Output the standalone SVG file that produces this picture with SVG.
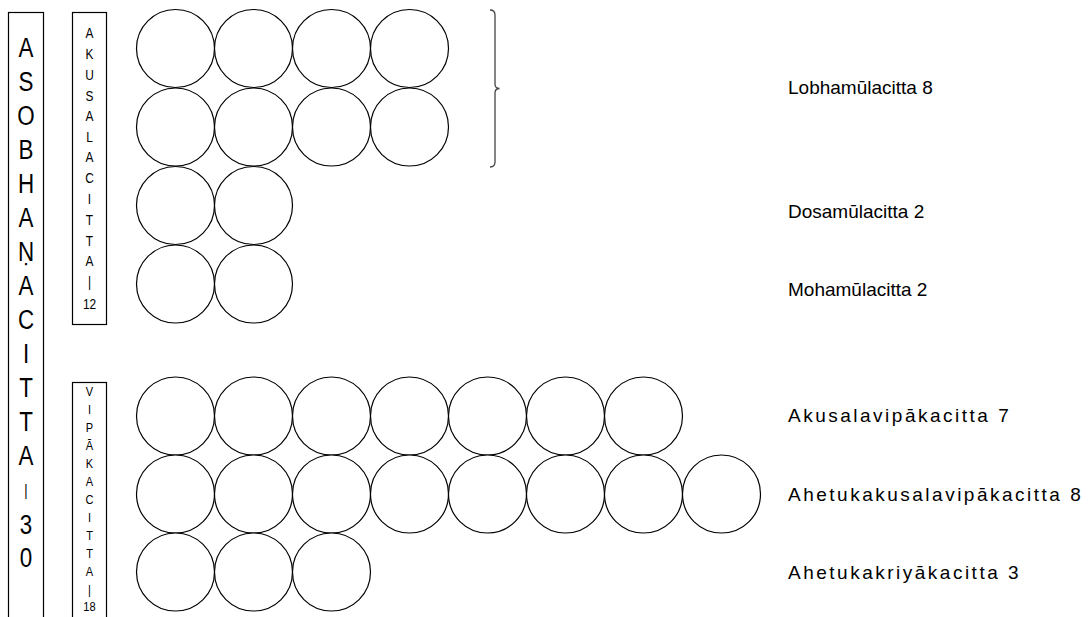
<svg xmlns="http://www.w3.org/2000/svg" width="1090" height="617" viewBox="0 0 1090 617">
<style>
.c{fill:#fff;stroke:#000;stroke-width:1.2}
.box{fill:#fff;stroke:#000;stroke-width:1.2}
.big{font-family:"Liberation Sans",Arial,sans-serif;font-size:28px;fill:#000;text-anchor:middle;dominant-baseline:central}
.sm{font-family:"Liberation Sans",Arial,sans-serif;font-size:14px;fill:#000;text-anchor:middle;dominant-baseline:central}
.xs{font-family:"Liberation Sans",Arial,sans-serif;font-size:13px;fill:#000;text-anchor:middle;dominant-baseline:central}
.lbl{font-family:"Liberation Sans",Arial,sans-serif;font-size:19px;fill:#000;dominant-baseline:central}
.wide{letter-spacing:2.5px}
.brace{fill:none;stroke:#444;stroke-width:1.3}
</style>
<rect width="1090" height="617" fill="#fff"/>
<g id="asobhana">
<rect class="box" x="8.5" y="12.5" width="35" height="620"/>
<g transform="translate(26,0) scale(0.8,1)">
<text class="big" x="0" y="47">A</text>
<text class="big" x="0" y="81">S</text>
<text class="big" x="0" y="115">O</text>
<text class="big" x="0" y="149">B</text>
<text class="big" x="0" y="183">H</text>
<text class="big" x="0" y="217">A</text>
<text class="big" x="0" y="251">Ṇ</text>
<text class="big" x="0" y="285">A</text>
<text class="big" x="0" y="319">C</text>
<text class="big" x="0" y="353">I</text>
<text class="big" x="0" y="387">T</text>
<text class="big" x="0" y="421">T</text>
<text class="big" x="0" y="455">A</text>
<text class="big" x="0" y="490" style="font-size:16px">|</text>
<text class="big" x="0" y="524">3</text>
<text class="big" x="0" y="557">0</text>
</g>
</g>
<g id="akusala">
<rect class="box" x="72.5" y="12.5" width="34" height="312"/>
<g transform="translate(89.5,0) scale(0.85,1)">
<text class="sm" x="0" y="33">A</text>
<text class="sm" x="0" y="54">K</text>
<text class="sm" x="0" y="75">U</text>
<text class="sm" x="0" y="96">S</text>
<text class="sm" x="0" y="116">A</text>
<text class="sm" x="0" y="137">L</text>
<text class="sm" x="0" y="157">A</text>
<text class="sm" x="0" y="178">C</text>
<text class="sm" x="0" y="199">I</text>
<text class="sm" x="0" y="220">T</text>
<text class="sm" x="0" y="241">T</text>
<text class="sm" x="0" y="261">A</text>
<text class="sm" x="0" y="282">|</text>
<text class="sm" x="0" y="304">12</text>
</g>
</g>
<g id="vipaka">
<rect class="box" x="72.5" y="382.5" width="34" height="250"/>
<g transform="translate(89.5,0) scale(0.85,1)">
<text class="xs" x="0" y="392">V</text>
<text class="xs" x="0" y="410">I</text>
<text class="xs" x="0" y="428">P</text>
<text class="xs" x="0" y="446">Ā</text>
<text class="xs" x="0" y="464">K</text>
<text class="xs" x="0" y="482">A</text>
<text class="xs" x="0" y="500">C</text>
<text class="xs" x="0" y="518">I</text>
<text class="xs" x="0" y="536">T</text>
<text class="xs" x="0" y="554">T</text>
<text class="xs" x="0" y="572">A</text>
<text class="xs" x="0" y="590">|</text>
<text class="xs" x="0" y="607">18</text>
</g>
</g>
<g id="lobha">
<circle class="c" cx="175.5" cy="48.5" r="39"/><circle class="c" cx="253.5" cy="48.5" r="39"/><circle class="c" cx="331.5" cy="48.5" r="39"/><circle class="c" cx="409.5" cy="48.5" r="39"/>
<circle class="c" cx="175.5" cy="127" r="39"/><circle class="c" cx="253.5" cy="127" r="39"/><circle class="c" cx="331.5" cy="127" r="39"/><circle class="c" cx="409.5" cy="127" r="39"/>
<text class="lbl" x="788" y="87">Lobhamūlacitta 8</text>
</g>
<g id="dosa">
<circle class="c" cx="175.5" cy="205.5" r="39"/><circle class="c" cx="253.5" cy="205.5" r="39"/>
<text class="lbl" x="788" y="211">Dosamūlacitta 2</text>
</g>
<g id="moha">
<circle class="c" cx="175.5" cy="284" r="39"/><circle class="c" cx="253.5" cy="284" r="39"/>
<text class="lbl" x="788" y="289">Mohamūlacitta 2</text>
</g>
<g id="akusalavipaka">
<circle class="c" cx="175.5" cy="416" r="39"/><circle class="c" cx="253.5" cy="416" r="39"/><circle class="c" cx="331.5" cy="416" r="39"/><circle class="c" cx="409.5" cy="416" r="39"/><circle class="c" cx="487.5" cy="416" r="39"/><circle class="c" cx="565.5" cy="416" r="39"/><circle class="c" cx="643.5" cy="416" r="39"/>
<text class="lbl wide" x="788" y="415">Akusalavipākacitta 7</text>
</g>
<g id="ahetukakusalavipaka">
<circle class="c" cx="175.5" cy="494" r="39"/><circle class="c" cx="253.5" cy="494" r="39"/><circle class="c" cx="331.5" cy="494" r="39"/><circle class="c" cx="409.5" cy="494" r="39"/><circle class="c" cx="487.5" cy="494" r="39"/><circle class="c" cx="565.5" cy="494" r="39"/><circle class="c" cx="643.5" cy="494" r="39"/><circle class="c" cx="721.5" cy="494" r="39"/>
<text class="lbl wide" x="788" y="494">Ahetukakusalavipākacitta 8</text>
</g>
<g id="ahetukakriya">
<circle class="c" cx="175.5" cy="572" r="39"/><circle class="c" cx="253.5" cy="572" r="39"/><circle class="c" cx="331.5" cy="572" r="39"/>
<text class="lbl wide" x="788" y="572">Ahetukakriyākacitta 3</text>
</g>
<g id="connectors">
<path class="brace" d="M490,10 Q495,10 495,15 L495,84 Q495,88.5 499.5,88.5 Q495,88.5 495,93 L495,162 Q495,167 490,167"/>
</g>
</svg>
